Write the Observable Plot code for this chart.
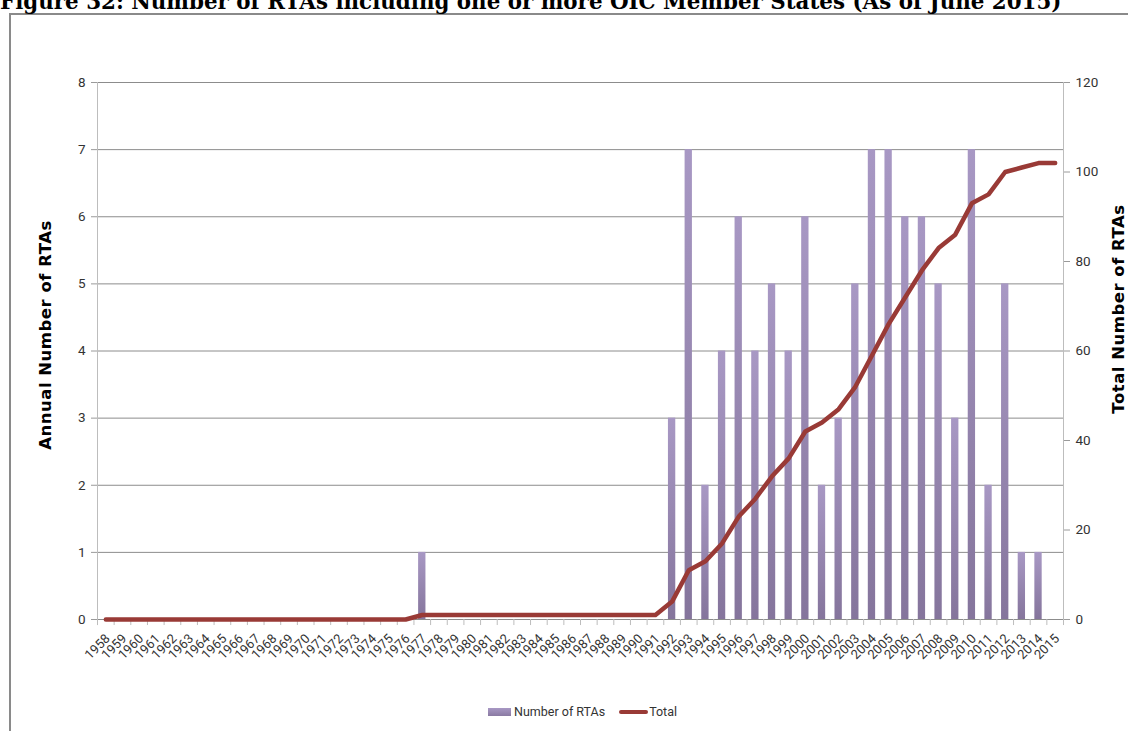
<!DOCTYPE html>
<html><head><meta charset="utf-8">
<script src="https://cdn.jsdelivr.net/npm/d3@7"></script>
<script src="https://cdn.jsdelivr.net/npm/@observablehq/plot@0.6"></script>
<style>
body{margin:0;background:#fff;width:1128px;height:731px;overflow:hidden;position:relative;}
#title{position:absolute;left:0;top:-11px;font:bold 21.4px "DejaVu Serif",serif;white-space:nowrap;color:#000}
#frame{position:absolute;left:9px;top:13px;width:1200px;height:800px;border-left:2px solid #8a8a8a;border-top:2px solid #8a8a8a;box-sizing:border-box}
#chart{position:absolute;left:0;top:0}
.ytitle{position:absolute;font:bold 16.5px "DejaVu Sans",sans-serif;letter-spacing:0.5px;white-space:nowrap;transform:translate(-50%,-50%) rotate(-90deg);color:#000}
#legend{position:absolute;top:704px;left:488px;font:12.5px "Roboto",sans-serif;color:#333;display:flex;align-items:center;white-space:nowrap}
#legend .sw1{display:inline-block;width:23px;height:8px;background:linear-gradient(#a898c4,#8a7aa2);margin-right:3px}
#legend .sw2{display:inline-block;width:29px;height:4px;border-radius:2px;background:#993a36;margin-left:14px;margin-right:1px}
</style></head>
<body>
<div id="frame"></div>
<div id="chart"></div>
<div id="title">Figure 32: Number of RTAs including one or more OIC Member States (As of June 2015)</div>
<div class="ytitle" style="left:45px;top:335px">Annual Number of RTAs</div>
<div class="ytitle" style="left:1118px;top:309px">Total Number of RTAs</div>
<div id="legend"><span class="sw1"></span>Number of RTAs<span class="sw2"></span>Total</div>
<script>
const years = ["1958","1959","1960","1961","1962","1963","1964","1965","1966","1967","1968","1969","1970","1971","1972","1973","1974","1975","1976","1977","1978","1979","1980","1981","1982","1983","1984","1985","1986","1987","1988","1989","1990","1991","1992","1993","1994","1995","1996","1997","1998","1999","2000","2001","2002","2003","2004","2005","2006","2007","2008","2009","2010","2011","2012","2013","2014","2015"];
const annualRTAs = [0,0,0,0,0,0,0,0,0,0,0,0,0,0,0,0,0,0,0,1,0,0,0,0,0,0,0,0,0,0,0,0,0,0,3,7,2,4,6,4,5,4,6,2,3,5,7,7,6,6,5,3,7,2,5,1,1,0];
const totalRTAs = [0,0,0,0,0,0,0,0,0,0,0,0,0,0,0,0,0,0,0,1,1,1,1,1,1,1,1,1,1,1,1,1,1,1,4,11,13,17,23,27,32,36,42,44,47,52,59,66,72,78,83,86,93,95,100,101,102,102];
const leftTicks = [0,1,2,3,4,5,6,7,8];
const rightTicks = [0,20,40,60,80,100,120];
const seriesNames = ["Number of RTAs","Total"];

const data = years.map((y,i)=>({year:y, n:annualRTAs[i], total:totalRTAs[i]}));
const W=1128,H=700,ML=97,MR=65,MT=82,MB=81;
const ratio = 120/8;
const step = (W-ML-MR)/years.length;

const chart = Plot.plot({
  width:W,height:H,marginLeft:ML,marginRight:MR,marginTop:MT,marginBottom:MB,
  style:{fontFamily:'"Roboto",sans-serif',fontSize:"13px",color:"#333",background:"transparent",overflow:"visible"},
  x:{type:"band",domain:years,paddingInner:0.56,paddingOuter:0.28,label:null},
  y:{domain:[0,8],label:null},
  marks:[
    Plot.ruleY(leftTicks,{stroke:"#8c8c8c",strokeWidth:1}),
    Plot.ruleX([years[0]],{x:d=>d,y1:-0.09,y2:8,dx:-step/2,stroke:"#bdbdbd"}),
    Plot.ruleX([years[years.length-1]],{x:d=>d,y1:-0.09,y2:8,dx:step/2,stroke:"#bdbdbd"}),
    Plot.ruleX(years,{x:d=>d,y1:-0.09,y2:0,dx:-step/2,stroke:"#bdbdbd"}),
    Plot.barY(data,{x:"year",y:"n",fill:"#9a8ab5"}),
    Plot.lineY(data,{x:"year",y:d=>d.total/ratio,stroke:"#993a36",strokeWidth:4.5,strokeLinejoin:"round",strokeLinecap:"round"}),
    Plot.axisY(leftTicks,{anchor:"left",tickSize:6,tickPadding:6,stroke:"#9a9a9a",fill:"#333",fontSize:13.5,tickFormat:d=>String(d),label:null}),
    Plot.axisY(rightTicks.map(v=>v/ratio),{anchor:"right",tickSize:6,tickPadding:6,stroke:"#9a9a9a",fill:"#333",fontSize:13.5,tickFormat:d=>String(Math.round(d*ratio)),label:null}),
    Plot.axisX({tickRotate:-45,tickSize:0,tickPadding:10,dy:7,dx:2,fill:"#333",fontSize:13,label:null})
  ]
});
const svg = d3.select(chart);
const defs = svg.insert("defs",":first-child");
const g = defs.append("linearGradient").attr("id","barGrad").attr("x1",0).attr("y1",0).attr("x2",0).attr("y2",1);
g.append("stop").attr("offset","0%").attr("stop-color","#a898c4");
g.append("stop").attr("offset","100%").attr("stop-color","#85759c");
svg.selectAll("g[aria-label='bar']").attr("fill","url(#barGrad)");
document.getElementById("chart").appendChild(chart);
</script>
</body></html>
